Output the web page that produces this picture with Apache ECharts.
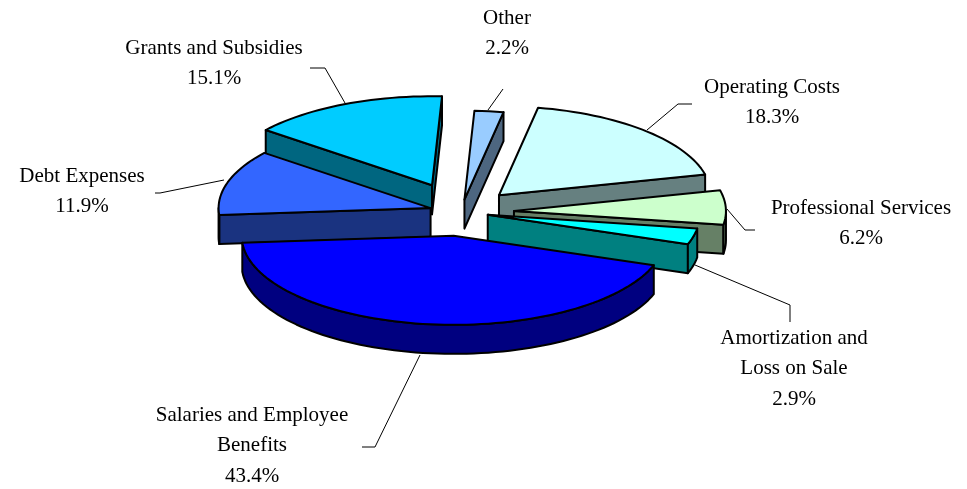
<!DOCTYPE html>
<html>
<head>
<meta charset="utf-8">
<style>html,body{margin:0;padding:0;background:#fff}#main{width:967px;height:489px}</style>
<script src="https://cdn.jsdelivr.net/npm/echarts@6/dist/echarts.min.js"></script>
</head>
<body>
<div id="main"></div>
<script>
var categories = ['Other', 'Operating Costs', 'Professional Services', 'Amortization and Loss on Sale', 'Salaries and Employee Benefits', 'Debt Expenses', 'Grants and Subsidies'];
var shares = [2.2, 18.3, 6.2, 2.9, 43.4, 11.9, 15.1];
var topColors = ['#99CCFF', '#CCFFFF', '#CCFFCC', '#00FFFF', '#0000FF', '#3366FF', '#00CCFF'];
var wallColors = ['#4D6680', '#668080', '#668066', '#008080', '#000080', '#1A3380', '#006680'];
var explode = [0.14, 0.26, 0.25, 0.13, 0.27, 0.15, 0.33];
// back to front
var drawOrder = [6, 0, 1, 5, 2, 3, 4];

// the pie is an ellipse with a fake extrusion
var cx = 461, cy = 212, rx = 212, ry = 89, depth = 29, firstAngle = 2.7;

var labelLines = [
  { i: 0, x: 507, y: 18, lines: ['Other'] },
  { i: 1, x: 772, y: 87, lines: ['Operating Costs'] },
  { i: 2, x: 861, y: 208, lines: ['Professional Services'] },
  { i: 3, x: 794, y: 338, lines: ['Amortization and', 'Loss on Sale'] },
  { i: 4, x: 252, y: 415, lines: ['Salaries and Employee', 'Benefits'] },
  { i: 5, x: 82, y: 176, lines: ['Debt Expenses'] },
  { i: 6, x: 214, y: 48, lines: ['Grants and Subsidies'] }
];
var leaders = [
  [[488, 110], [503, 89]],
  [[647, 130], [678, 104], [692, 104]],
  [[727, 209], [745, 230], [755, 230]],
  [[695, 265], [790, 305], [790, 322]],
  [[420, 355], [375, 447], [362, 447]],
  [[224, 180], [160, 193], [155, 193]],
  [[345, 103], [325, 68], [310, 68]]
];

var total = shares.reduce(function (a, b) { return a + b; }, 0);
var slices = [];
var acc = firstAngle;
shares.forEach(function (v, i) {
  var start = acc;
  var end = acc + v / total * 360;
  acc = end;
  var mid = (start + end) / 2 * Math.PI / 180;
  slices.push({
    start: start,
    end: end,
    ax: cx + Math.sin(mid) * explode[i] * rx,
    ay: cy - Math.cos(mid) * explode[i] * ry
  });
});

function rimPoint(s, deg) {
  var a = deg * Math.PI / 180;
  return [s.ax + Math.sin(a) * rx, s.ay - Math.cos(a) * ry];
}

function rimArc(s, from, to) {
  var pts = [];
  var n = Math.max(2, Math.ceil((to - from) / 2));
  for (var k = 0; k <= n; k++) pts.push(rimPoint(s, from + (to - from) * k / n));
  return pts;
}

function down(pts) {
  return pts.map(function (p) { return [p[0], p[1] + depth]; }).reverse();
}

function poly(points, fill) {
  return {
    type: 'polygon',
    shape: { points: points },
    style: { fill: fill, stroke: '#000', lineWidth: 2, lineJoin: 'round' }
  };
}

function renderSlice(params, api) {
  var i = api.value(0);
  var s = slices[i];
  var apex = [s.ax, s.ay];
  var walls = [];
  var rad = Math.PI / 180;
  if (Math.sin(s.start * rad) < 0) {
    var e1 = [apex, rimPoint(s, s.start)];
    walls.push(poly(e1.concat(down(e1)), wallColors[i]));
  }
  if (Math.sin(s.end * rad) > 0) {
    var e2 = [apex, rimPoint(s, s.end)];
    walls.push(poly(e2.concat(down(e2)), wallColors[i]));
  }
  var from = Math.max(s.start, 90), to = Math.min(s.end, 270);
  if (to > from) {
    var arc = rimArc(s, from, to);
    walls.push(poly(arc.concat(down(arc)), wallColors[i]));
  }
  walls.push(poly([apex].concat(rimArc(s, s.start, s.end)), topColors[i]));
  return { type: 'group', children: walls };
}

var graphics = [];
labelLines.forEach(function (l) {
  l.lines.concat([shares[l.i].toFixed(1) + '%']).forEach(function (t, k) {
    graphics.push({
      type: 'text',
      x: l.x,
      y: l.y + k * 30.5,
      silent: true,
      style: {
        text: t,
        fill: '#000',
        font: '21px "Liberation Serif"',
        textAlign: 'center',
        textVerticalAlign: 'middle'
      }
    });
  });
});
leaders.forEach(function (pts) {
  graphics.push({
    type: 'polyline',
    silent: true,
    shape: { points: pts },
    style: { fill: null, stroke: '#000', lineWidth: 1 }
  });
});

var myChart = echarts.init(document.getElementById('main'));
myChart.setOption({
  animation: false,
  backgroundColor: '#fff',
  graphic: graphics,
  series: [{
    type: 'custom',
    coordinateSystem: 'none',
    silent: true,
    renderItem: renderSlice,
    data: drawOrder.map(function (i) { return [i]; })
  }]
});
</script>
</body>
</html>
